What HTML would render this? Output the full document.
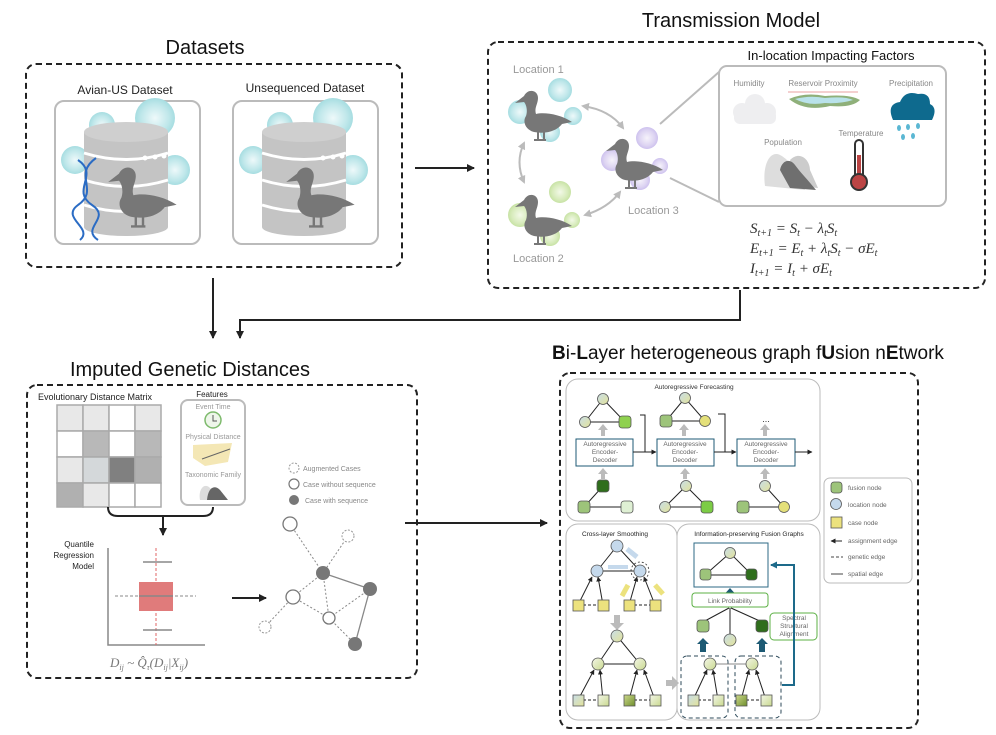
<!DOCTYPE html>
<html><head><meta charset="utf-8"><style>
html,body{margin:0;padding:0;background:#fff}
svg{display:block;font-family:"Liberation Sans",sans-serif}
</style></head><body>
<svg width="996" height="735" viewBox="0 0 996 735" xmlns="http://www.w3.org/2000/svg">
<defs>
<marker id="ah" markerWidth="8" markerHeight="8" refX="7" refY="4" orient="auto" markerUnits="userSpaceOnUse"><path d="M0,0 L8,4 L0,8 Z" fill="#222"/></marker>
<marker id="as" markerWidth="5" markerHeight="5" refX="4.5" refY="2.5" orient="auto" markerUnits="userSpaceOnUse"><path d="M0,0 L5,2.5 L0,5 Z" fill="#222"/></marker>
<marker id="ag" markerWidth="8" markerHeight="8" refX="6" refY="4" orient="auto-start-reverse" markerUnits="userSpaceOnUse"><path d="M0,0 L8,4 L0,8 Z" fill="#bbb"/></marker>
<marker id="ab" markerWidth="7" markerHeight="7" refX="6" refY="3.5" orient="auto" markerUnits="userSpaceOnUse"><path d="M0,0 L7,3.5 L0,7 Z" fill="#1d6a8a"/></marker>
<g id="duck"><path d="M10,8 C14,0 24,2 24,10 C24,16 20,20 22,26 C30,24 46,26 58,34 L48,36 C42,44 30,46 20,44 C12,42 8,34 12,28 C14,22 12,16 10,14 L1,15 Z" fill="#777"/><path d="M24,44 L24,52 M30,44 L30,52 M20,52 L32,52" stroke="#777" stroke-width="2"/></g>
<radialGradient id="vb"><stop offset="0" stop-color="#eef9fa"/><stop offset="0.7" stop-color="#bfe7ea"/><stop offset="1" stop-color="#a6dde1"/></radialGradient>
<radialGradient id="vg"><stop offset="0" stop-color="#f3f9e8"/><stop offset="0.7" stop-color="#d7ebbb"/><stop offset="1" stop-color="#c7e2a4"/></radialGradient>
<radialGradient id="vp"><stop offset="0" stop-color="#f6f3fb"/><stop offset="0.7" stop-color="#ddd4f2"/><stop offset="1" stop-color="#cdc1ee"/></radialGradient>
<linearGradient id="gy" x1="0" y1="0" x2="1" y2="1"><stop offset="0" stop-color="#c8dde8"/><stop offset="1" stop-color="#e3e39a"/></linearGradient>
<linearGradient id="gg" x1="0" y1="0" x2="1" y2="1"><stop offset="0" stop-color="#f4f6e8"/><stop offset="1" stop-color="#c9d98f"/></linearGradient>
<linearGradient id="gd" x1="0" y1="0" x2="1" y2="1"><stop offset="0" stop-color="#cdd88c"/><stop offset="1" stop-color="#6f8f2d"/></linearGradient>
</defs>

<!-- ================= DATASETS ================= -->
<text x="205" y="54" font-size="20" text-anchor="middle" fill="#111">Datasets</text>
<rect x="26" y="64" width="376" height="203" rx="10" fill="none" stroke="#222" stroke-width="2" stroke-dasharray="6,4"/>
<text x="125" y="94" font-size="12" text-anchor="middle" fill="#222">Avian-US Dataset</text>
<text x="305" y="92" font-size="12" text-anchor="middle" fill="#222">Unsequenced Dataset</text>
<g>
<rect x="55" y="101" width="145" height="143" rx="9" fill="#fff" stroke="#bbb" stroke-width="2"/>
<circle cx="102" cy="125" r="13" fill="url(#vb)"/><circle cx="155" cy="118" r="20" fill="url(#vb)"/><circle cx="175" cy="170" r="15" fill="url(#vb)"/><circle cx="75" cy="160" r="14" fill="url(#vb)"/>
<rect x="84" y="132" width="84" height="95" fill="#c4c4c4"/><ellipse cx="126" cy="132" rx="42" ry="10" fill="#cfcfcf"/><ellipse cx="126" cy="227" rx="42" ry="9" fill="#c4c4c4"/>
<path d="M84,153 Q126,166 168,153 M84,180 Q126,193 168,180 M84,205 Q126,218 168,205" stroke="#fff" stroke-width="3" fill="none"/>
<circle cx="145" cy="158" r="2.5" fill="#fff"/><circle cx="155" cy="157" r="2.5" fill="#fff"/><circle cx="164" cy="156" r="2.5" fill="#fff"/>
<use href="#duck" transform="translate(107,164) scale(1.2)"/>
<path d="M78,160 C100,175 70,190 92,205 C112,218 80,228 98,240" stroke="#2b6cc4" stroke-width="2" fill="none"/>
<path d="M96,158 C72,175 100,190 78,205 C60,218 94,228 80,240" stroke="#2b6cc4" stroke-width="2" fill="none"/>
</g>
<g transform="translate(178,0)">
<rect x="55" y="101" width="145" height="143" rx="9" fill="#fff" stroke="#bbb" stroke-width="2"/>
<circle cx="102" cy="125" r="13" fill="url(#vb)"/><circle cx="155" cy="118" r="20" fill="url(#vb)"/><circle cx="175" cy="170" r="15" fill="url(#vb)"/><circle cx="75" cy="160" r="14" fill="url(#vb)"/>
<rect x="84" y="132" width="84" height="95" fill="#c4c4c4"/><ellipse cx="126" cy="132" rx="42" ry="10" fill="#cfcfcf"/><ellipse cx="126" cy="227" rx="42" ry="9" fill="#c4c4c4"/>
<path d="M84,153 Q126,166 168,153 M84,180 Q126,193 168,180 M84,205 Q126,218 168,205" stroke="#fff" stroke-width="3" fill="none"/>
<circle cx="145" cy="158" r="2.5" fill="#fff"/><circle cx="155" cy="157" r="2.5" fill="#fff"/><circle cx="164" cy="156" r="2.5" fill="#fff"/>
<use href="#duck" transform="translate(107,164) scale(1.2)"/>
</g>
<line x1="415" y1="168" x2="474" y2="168" stroke="#222" stroke-width="2" marker-end="url(#ah)"/>

<!-- ================= TRANSMISSION ================= -->
<text x="731" y="27" font-size="20" text-anchor="middle" fill="#111">Transmission Model</text>
<rect x="488" y="42" width="497" height="246" rx="10" fill="none" stroke="#222" stroke-width="2" stroke-dasharray="6,4"/>
<text x="831" y="60" font-size="13" text-anchor="middle" fill="#111">In-location Impacting Factors</text>
<rect x="719" y="66" width="227" height="140" rx="8" fill="#fff" stroke="#bbb" stroke-width="2"/>
<line x1="660" y1="124" x2="719" y2="72" stroke="#bbb" stroke-width="2"/><line x1="670" y1="178" x2="719" y2="202" stroke="#bbb" stroke-width="2"/>
<text x="513" y="73" font-size="11" fill="#999">Location 1</text>
<text x="513" y="262" font-size="11" fill="#999">Location 2</text>
<text x="628" y="214" font-size="11" fill="#999">Location 3</text>
<circle cx="560" cy="90" r="12" fill="url(#vb)"/><circle cx="520" cy="112" r="12" fill="url(#vb)"/><circle cx="573" cy="116" r="9" fill="url(#vb)"/><circle cx="550" cy="132" r="10" fill="url(#vb)"/>
<use href="#duck" transform="translate(514,88) scale(1)"/>
<circle cx="560" cy="192" r="11" fill="url(#vg)"/><circle cx="520" cy="215" r="12" fill="url(#vg)"/><circle cx="572" cy="220" r="8" fill="url(#vg)"/><circle cx="550" cy="236" r="10" fill="url(#vg)"/>
<use href="#duck" transform="translate(514,192) scale(1)"/>
<circle cx="647" cy="138" r="11" fill="url(#vp)"/><circle cx="612" cy="160" r="11" fill="url(#vp)"/><circle cx="660" cy="166" r="8" fill="url(#vp)"/><circle cx="640" cy="180" r="10" fill="url(#vp)"/>
<use href="#duck" transform="translate(605,136) scale(1)"/>
<path d="M583,106 Q610,110 623,128" stroke="#bbb" stroke-width="2" fill="none" marker-start="url(#ag)" marker-end="url(#ag)"/>
<path d="M524,143 Q515,162 524,182" stroke="#bbb" stroke-width="2" fill="none" marker-start="url(#ag)" marker-end="url(#ag)"/>
<path d="M585,215 Q608,208 620,192" stroke="#bbb" stroke-width="2" fill="none" marker-start="url(#ag)" marker-end="url(#ag)"/>
<text x="749" y="86" font-size="8" text-anchor="middle" fill="#888">Humidity</text>
<text x="823" y="86" font-size="8" text-anchor="middle" fill="#888">Reservoir Proximity</text>
<text x="911" y="86" font-size="8" text-anchor="middle" fill="#888">Precipitation</text>
<text x="783" y="145" font-size="8" text-anchor="middle" fill="#888">Population</text>
<text x="861" y="136" font-size="8" text-anchor="middle" fill="#888">Temperature</text>
<g fill="#eeeef0"><circle cx="742" cy="112" r="9"/><circle cx="755" cy="104" r="10"/><circle cx="767" cy="112" r="9"/><rect x="734" y="110" width="42" height="14" rx="6"/></g>
<line x1="788" y1="92" x2="858" y2="92" stroke="#e8a0a0" stroke-width="1"/>
<path d="M789,99 Q805,92 825,96 Q850,94 860,100 Q852,108 830,106 Q805,112 789,99 Z" fill="#8fb07a"/>
<path d="M795,99 Q810,95 825,98 Q845,96 853,100 Q840,104 825,103 Q808,106 795,99 Z" fill="#b9e2ea"/>
<path d="M893,120 Q886,104 900,102 Q905,90 918,94 Q930,92 930,104 Q938,108 932,120 Z" fill="#0e6a8e"/>
<g fill="#5bb7d3"><ellipse cx="899" cy="128" rx="2" ry="3"/><ellipse cx="908" cy="127" rx="2" ry="3"/><ellipse cx="918" cy="126" rx="2" ry="3"/><ellipse cx="903" cy="137" rx="2" ry="3"/><ellipse cx="913" cy="136" rx="2" ry="3"/></g>
<path d="M765,186 C762,165 770,150 780,155 C790,160 800,175 805,190 Z" fill="#ddd"/>
<path d="M790,160 C800,150 810,160 810,170 L818,188 L798,186 Z" fill="#ccc"/>
<path d="M780,170 C782,160 790,158 795,165 C800,172 808,180 816,190 L790,188 Z" fill="#6f6f6f"/>
<rect x="855" y="140" width="8" height="40" rx="4" fill="#fff" stroke="#333" stroke-width="2"/><rect x="857" y="155" width="4" height="25" fill="#b44"/><circle cx="859" cy="182" r="8" fill="#b44" stroke="#333" stroke-width="2"/>
<g font-family="Liberation Serif,serif" font-style="italic" font-size="15" fill="#333">
<text x="750" y="233">S<tspan font-size="10" dy="3">t+1</tspan><tspan dy="-3"> = S</tspan><tspan font-size="10" dy="3">t</tspan><tspan dy="-3"> − λ</tspan><tspan font-size="10" dy="3">t</tspan><tspan dy="-3">S</tspan><tspan font-size="10" dy="3">t</tspan></text>
<text x="750" y="253">E<tspan font-size="10" dy="3">t+1</tspan><tspan dy="-3"> = E</tspan><tspan font-size="10" dy="3">t</tspan><tspan dy="-3"> + λ</tspan><tspan font-size="10" dy="3">t</tspan><tspan dy="-3">S</tspan><tspan font-size="10" dy="3">t</tspan><tspan dy="-3"> − σE</tspan><tspan font-size="10" dy="3">t</tspan></text>
<text x="750" y="273">I<tspan font-size="10" dy="3">t+1</tspan><tspan dy="-3"> = I</tspan><tspan font-size="10" dy="3">t</tspan><tspan dy="-3"> + σE</tspan><tspan font-size="10" dy="3">t</tspan></text>
</g>

<!-- connectors -->
<line x1="213" y1="278" x2="213" y2="338" stroke="#222" stroke-width="2" marker-end="url(#ah)"/>
<polyline points="740,290 740,320 240,320 240,338" fill="none" stroke="#222" stroke-width="2" marker-end="url(#ah)"/>
<line x1="405" y1="523" x2="547" y2="523" stroke="#222" stroke-width="2" marker-end="url(#ah)"/>

<!-- ================= IMPUTED ================= -->
<text x="190" y="376" font-size="20" text-anchor="middle" fill="#111">Imputed Genetic Distances</text>
<rect x="27" y="385" width="390" height="293" rx="10" fill="none" stroke="#222" stroke-width="2" stroke-dasharray="6,4"/>
<text x="95" y="400" font-size="9" text-anchor="middle" fill="#222">Evolutionary Distance Matrix</text>
<g stroke="#aaa" stroke-width="1.5">
<rect x="57" y="405" width="26" height="26" fill="#e8e8e8"/><rect x="83" y="405" width="26" height="26" fill="#e8e8e8"/><rect x="109" y="405" width="26" height="26" fill="#fff"/><rect x="135" y="405" width="26" height="26" fill="#e8e8e8"/>
<rect x="57" y="431" width="26" height="26" fill="#fff"/><rect x="83" y="431" width="26" height="26" fill="#b8b8b8"/><rect x="109" y="431" width="26" height="26" fill="#fff"/><rect x="135" y="431" width="26" height="26" fill="#b8b8b8"/>
<rect x="57" y="457" width="26" height="26" fill="#e8e8e8"/><rect x="83" y="457" width="26" height="26" fill="#d4d8da"/><rect x="109" y="457" width="26" height="26" fill="#808080"/><rect x="135" y="457" width="26" height="26" fill="#b0b0b0"/>
<rect x="57" y="483" width="26" height="24" fill="#b0b0b0"/><rect x="83" y="483" width="26" height="24" fill="#e8e8e8"/><rect x="109" y="483" width="26" height="24" fill="#fff"/><rect x="135" y="483" width="26" height="24" fill="#fff"/>
</g>
<text x="212" y="397" font-size="8" text-anchor="middle" fill="#222">Features</text>
<rect x="181" y="400" width="64" height="105" rx="7" fill="#fff" stroke="#bbb" stroke-width="2"/>
<text x="213" y="409" font-size="7" text-anchor="middle" fill="#999">Event Time</text>
<circle cx="213" cy="420" r="8" fill="#eef6ea" stroke="#7dba6c" stroke-width="1.5"/><path d="M213,415 L213,421 L217,421" stroke="#555" fill="none"/>
<text x="213" y="439" font-size="7" text-anchor="middle" fill="#999">Physical Distance</text>
<path d="M193,445 L232,443 L228,462 L205,466 L193,458 Z" fill="#f4e7b5"/><line x1="202" y1="459" x2="230" y2="449" stroke="#666"/>
<text x="213" y="477" font-size="7" text-anchor="middle" fill="#999">Taxonomic Family</text>
<path d="M200,500 C198,490 204,482 210,488 L222,500 Z" fill="#ddd"/><path d="M207,500 C208,488 214,484 220,490 L228,500 Z" fill="#666"/>
<path d="M108,507 Q108,516 118,516 L203,516 Q213,516 213,507" fill="none" stroke="#222" stroke-width="2"/>
<line x1="163" y1="517" x2="163" y2="535" stroke="#222" stroke-width="2" marker-end="url(#ah)"/>
<g font-size="8" fill="#222" text-anchor="end"><text x="94" y="547">Quantile</text><text x="94" y="558">Regression</text><text x="94" y="569">Model</text></g>
<polyline points="108,548 108,645 205,645" fill="none" stroke="#888" stroke-width="1.5"/>
<line x1="156" y1="548" x2="156" y2="645" stroke="#e06666" stroke-dasharray="3,2"/>
<line x1="115" y1="596" x2="196" y2="596" stroke="#888" stroke-dasharray="3,2"/>
<rect x="139" y="582" width="34" height="29" fill="#e07b7b"/>
<line x1="139" y1="596" x2="173" y2="596" stroke="#888" stroke-width="1.5"/>
<line x1="143" y1="562" x2="172" y2="562" stroke="#888" stroke-width="1.5"/><line x1="143" y1="630" x2="172" y2="630" stroke="#888" stroke-width="1.5"/>
<text x="110" y="667" font-family="Liberation Serif,serif" font-style="italic" font-size="13" fill="#777">D<tspan font-size="8" dy="3">ij</tspan><tspan dy="-3"> ~ Q̂</tspan><tspan font-size="8" dy="3">τ</tspan><tspan dy="-3">(D</tspan><tspan font-size="8" dy="3">ij</tspan><tspan dy="-3">|X</tspan><tspan font-size="8" dy="3">ij</tspan><tspan dy="-3">)</tspan></text>
<line x1="232" y1="598" x2="266" y2="598" stroke="#222" stroke-width="2" marker-end="url(#ah)"/>
<circle cx="294" cy="468" r="5" fill="#fff" stroke="#999" stroke-dasharray="2,1.5"/><text x="303" y="471" font-size="7" fill="#888">Augmented Cases</text>
<circle cx="294" cy="484" r="5" fill="#fff" stroke="#777" stroke-width="1.2"/><text x="303" y="487" font-size="7" fill="#888">Case without sequence</text>
<circle cx="294" cy="500" r="5" fill="#777"/><text x="305" y="503" font-size="7" fill="#888">Case with sequence</text>
<g stroke="#888" stroke-dasharray="2,2" fill="none">
<line x1="290" y1="524" x2="323" y2="573"/><line x1="348" y1="536" x2="323" y2="573"/><line x1="323" y1="573" x2="293" y2="597"/><line x1="323" y1="573" x2="329" y2="618"/><line x1="293" y1="597" x2="265" y2="627"/><line x1="293" y1="597" x2="329" y2="618"/><line x1="329" y1="618" x2="370" y2="589"/><line x1="329" y1="618" x2="355" y2="644"/></g>
<g stroke="#888" stroke-width="1.3"><line x1="323" y1="573" x2="370" y2="589"/><line x1="370" y1="589" x2="355" y2="644"/></g>
<circle cx="290" cy="524" r="7" fill="#fff" stroke="#777" stroke-width="1.3"/>
<circle cx="348" cy="536" r="6" fill="#fff" stroke="#999" stroke-dasharray="2,1.5"/>
<circle cx="323" cy="573" r="7" fill="#777"/><circle cx="370" cy="589" r="7" fill="#777"/><circle cx="355" cy="644" r="7" fill="#777"/>
<circle cx="293" cy="597" r="7" fill="#fff" stroke="#777" stroke-width="1.3"/><circle cx="329" cy="618" r="6" fill="#fff" stroke="#777" stroke-width="1.3"/>
<circle cx="265" cy="627" r="6" fill="#fff" stroke="#999" stroke-dasharray="2,1.5"/>

<!-- ================= BI-LAYER ================= -->
<text x="748" y="359" font-size="19" text-anchor="middle" fill="#111"><tspan font-weight="bold">B</tspan>i-<tspan font-weight="bold">L</tspan>ayer heterogeneous graph f<tspan font-weight="bold">U</tspan>sion n<tspan font-weight="bold">E</tspan>twork</text>
<rect x="560" y="373" width="358" height="355" rx="10" fill="none" stroke="#222" stroke-width="2" stroke-dasharray="6,4"/>
<rect x="566" y="379" width="254" height="142" rx="12" fill="#fff" stroke="#bbb"/>
<rect x="566" y="524" width="111" height="196" rx="12" fill="#fff" stroke="#bbb"/>
<rect x="677" y="524" width="143" height="196" rx="12" fill="#fff" stroke="#bbb"/>
<text x="694" y="389" font-size="6.5" text-anchor="middle" fill="#333">Autoregressive Forecasting</text>
<text x="615" y="536" font-size="6.5" text-anchor="middle" fill="#222">Cross-layer Smoothing</text>
<text x="749" y="536" font-size="6.5" text-anchor="middle" fill="#222">Information-preserving Fusion Graphs</text>
<g font-size="6.5" fill="#666" text-anchor="middle">
<rect x="576" y="439" width="57" height="27" fill="#fff" stroke="#1d5a74"/><text x="605" y="446">Autoregressive</text><text x="605" y="454">Encoder-</text><text x="605" y="462">Decoder</text>
<rect x="657" y="439" width="57" height="27" fill="#fff" stroke="#1d5a74"/><text x="685" y="446">Autoregressive</text><text x="685" y="454">Encoder-</text><text x="685" y="462">Decoder</text>
<rect x="737" y="439" width="58" height="27" fill="#fff" stroke="#1d5a74"/><text x="766" y="446">Autoregressive</text><text x="766" y="454">Encoder-</text><text x="766" y="462">Decoder</text>
</g>
<g stroke="#222" fill="none"><polyline points="633,452 645,452 645,415 640,415"/><line x1="633" y1="452" x2="656" y2="452" marker-end="url(#as)"/>
<polyline points="714,452 725,452 725,414 718,414"/><line x1="714" y1="452" x2="736" y2="452" marker-end="url(#as)"/>
<line x1="795" y1="452" x2="812" y2="452" marker-end="url(#as)"/></g>
<text x="766" y="422" font-size="9" text-anchor="middle" fill="#333">...</text>
<g fill="#bbb"><path d="M601,436 v-6 h-3 l5,-6 l5,6 h-3 v6 z"/><path d="M682,436 v-6 h-3 l5,-6 l5,6 h-3 v6 z"/><path d="M763,436 v-6 h-3 l5,-6 l5,6 h-3 v6 z"/>
<path d="M601,479 v-5 h-3 l5,-6 l5,6 h-3 v5 z"/><path d="M683,479 v-5 h-3 l5,-6 l5,6 h-3 v5 z"/><path d="M763,479 v-5 h-3 l5,-6 l5,6 h-3 v5 z"/></g>
<g stroke="#222" stroke-width="1">
<path d="M603,399 L585,422 L625,422 Z" fill="none"/><path d="M685,398 L666,421 L705,421 Z" fill="none"/>
<path d="M603,486 L584,507 L627,507" fill="none"/><path d="M686,486 L665,507 L707,507 Z" fill="none"/><path d="M765,486 L784,507 L743,507" fill="none"/>
</g>
<g stroke="#555" stroke-width="0.8">
<circle cx="603" cy="399" r="5.5" fill="url(#gy)"/><circle cx="585" cy="422" r="5.5" fill="url(#gy)"/><rect x="619" y="416" width="12" height="12" rx="3" fill="#8fd14f"/>
<circle cx="685" cy="398" r="5.5" fill="url(#gy)"/><rect x="660" y="415" width="12" height="12" rx="3" fill="#9dc47a"/><circle cx="705" cy="421" r="5.5" fill="#e4e07a"/>
<rect x="597" y="480" width="12" height="12" rx="3" fill="#2f6e1c"/><rect x="578" y="501" width="12" height="12" rx="3" fill="#9dc47a"/><rect x="621" y="501" width="12" height="12" rx="3" fill="#dff0d4"/>
<circle cx="686" cy="486" r="5.5" fill="url(#gy)"/><circle cx="665" cy="507" r="5.5" fill="url(#gy)"/><rect x="701" y="501" width="12" height="12" rx="3" fill="#7ccc45"/>
<circle cx="765" cy="486" r="5.5" fill="url(#gy)"/><rect x="737" y="501" width="12" height="12" rx="3" fill="#9dc47a"/><circle cx="784" cy="507" r="5.5" fill="#e4e07a"/>
</g>
<rect x="824" y="478" width="88" height="105" rx="6" fill="#fff" stroke="#bbb"/>
<rect x="831" y="482" width="11" height="11" rx="3" fill="#9dc47a" stroke="#555" stroke-width="0.8"/><text x="848" y="490" font-size="6.5" fill="#666">fusion node</text>
<circle cx="836" cy="504" r="5.5" fill="#c5d9ec" stroke="#555" stroke-width="0.8"/><text x="848" y="507" font-size="6.5" fill="#666">location node</text>
<rect x="831" y="517" width="11" height="11" fill="#ece27e" stroke="#555" stroke-width="0.8"/><text x="848" y="525" font-size="6.5" fill="#666">case  node</text>
<line x1="842" y1="541" x2="831" y2="541" stroke="#222" marker-end="url(#as)"/><text x="848" y="543" font-size="6.5" fill="#666">assignment edge</text>
<line x1="831" y1="557" x2="843" y2="557" stroke="#444" stroke-dasharray="3,2"/><text x="848" y="559" font-size="6.5" fill="#666">genetic edge</text>
<line x1="831" y1="574" x2="843" y2="574" stroke="#444"/><text x="848" y="576" font-size="6.5" fill="#666">spatial edge</text>
<g stroke="#222" stroke-width="1" fill="none">
<line x1="617" y1="546" x2="597" y2="571"/><line x1="617" y1="546" x2="640" y2="571"/><line x1="597" y1="571" x2="640" y2="571"/>
<line x1="578" y1="605" x2="592" y2="577" marker-end="url(#as)"/><line x1="603" y1="605" x2="598" y2="577" marker-end="url(#as)"/><line x1="629" y1="605" x2="637" y2="577" marker-end="url(#as)"/><line x1="655" y1="605" x2="644" y2="577" marker-end="url(#as)"/>
<line x1="578" y1="605" x2="603" y2="605" stroke-dasharray="3,2"/><line x1="629" y1="605" x2="655" y2="605" stroke-dasharray="3,2"/>
<line x1="617" y1="636" x2="598" y2="664"/><line x1="617" y1="636" x2="640" y2="664"/><line x1="598" y1="664" x2="640" y2="664"/>
<line x1="578" y1="700" x2="594" y2="670" marker-end="url(#as)"/><line x1="603" y1="700" x2="600" y2="670" marker-end="url(#as)"/><line x1="629" y1="700" x2="637" y2="670" marker-end="url(#as)"/><line x1="655" y1="700" x2="644" y2="670" marker-end="url(#as)"/>
<line x1="578" y1="700" x2="603" y2="700" stroke-dasharray="3,2"/><line x1="629" y1="700" x2="655" y2="700" stroke-dasharray="3,2"/>
</g>
<path d="M627,549 L637,557" stroke="#c5d9ec" stroke-width="5"/><path d="M608,567 L628,567" stroke="#c5d9ec" stroke-width="4"/>
<path d="M622,596 L628,585" stroke="#ece27e" stroke-width="5"/><path d="M663,594 L655,585" stroke="#ece27e" stroke-width="5"/>
<circle cx="640" cy="571" r="9" fill="none" stroke="#333" stroke-dasharray="2,2" stroke-width="0.8"/>
<path d="M614,615 h6 v8 h4 l-7,7 l-7,-7 h4 z" fill="#bbb"/>
<path d="M666,680 h6 v-4 l7,7 l-7,7 v-4 h-6 z" fill="#bbb"/>
<g stroke="#555" stroke-width="0.8">
<circle cx="617" cy="546" r="6" fill="#c5d9ec"/><circle cx="597" cy="571" r="6" fill="#c5d9ec"/><circle cx="640" cy="571" r="6" fill="#c5d9ec"/>
<rect x="573" y="600" width="11" height="11" fill="#ece27e"/><rect x="598" y="600" width="11" height="11" fill="#ece27e"/><rect x="624" y="600" width="11" height="11" fill="#ece27e"/><rect x="650" y="600" width="11" height="11" fill="#ece27e"/>
<circle cx="617" cy="636" r="6" fill="url(#gy)"/><circle cx="598" cy="664" r="6" fill="url(#gg)"/><circle cx="640" cy="664" r="6" fill="url(#gg)"/>
<rect x="573" y="695" width="11" height="11" fill="url(#gy)"/><rect x="598" y="695" width="11" height="11" fill="url(#gg)"/><rect x="624" y="695" width="11" height="11" fill="url(#gd)"/><rect x="650" y="695" width="11" height="11" fill="url(#gg)"/>
</g>
<rect x="694" y="543" width="74" height="44" fill="#fff" stroke="#2d6a84"/>
<g stroke="#222" fill="none"><path d="M730,553 L705,575 L752,575 Z"/></g>
<g stroke="#555" stroke-width="0.8"><circle cx="730" cy="553" r="5.5" fill="url(#gy)"/><rect x="700" y="569" width="11" height="11" rx="3" fill="#9dc47a"/><rect x="746" y="569" width="11" height="11" rx="3" fill="#2f6e1c"/></g>
<path d="M728,598 v-5 h-2.5 l4.5,-5 l4.5,5 h-2.5 v5 z" fill="#1d5a74"/>
<rect x="692" y="593" width="76" height="14" rx="3" fill="#fff" stroke="#5cb044"/>
<text x="730" y="603" font-size="6.5" text-anchor="middle" fill="#666">Link Probability</text>
<rect x="770" y="613" width="47" height="27" rx="4" fill="#fff" stroke="#5cb044"/>
<g font-size="6.5" fill="#666" text-anchor="middle"><text x="794" y="620">Spectral</text><text x="794" y="628">Structural</text><text x="794" y="636">Alignment</text></g>
<g stroke="#222" fill="none">
<line x1="703" y1="622" x2="729" y2="608"/><line x1="730" y1="635" x2="730" y2="608"/><line x1="762" y1="622" x2="731" y2="608"/>
<line x1="710" y1="664" x2="752" y2="664" stroke="#888"/>
<line x1="693" y1="700" x2="707" y2="670" marker-end="url(#as)"/><line x1="718" y1="700" x2="713" y2="670" marker-end="url(#as)"/><line x1="741" y1="700" x2="749" y2="670" marker-end="url(#as)"/><line x1="766" y1="700" x2="756" y2="670" marker-end="url(#as)"/>
<line x1="693" y1="700" x2="718" y2="700" stroke-dasharray="3,2"/><line x1="741" y1="700" x2="766" y2="700" stroke-dasharray="3,2"/>
</g>
<path d="M700,652 v-8 h-3 l6,-6 l6,6 h-3 v8 z" fill="#1d5a74"/><path d="M759,652 v-8 h-3 l6,-6 l6,6 h-3 v8 z" fill="#1d5a74"/>
<rect x="681" y="656" width="47" height="62" rx="6" fill="none" stroke="#2d4a5a" stroke-dasharray="4,3"/>
<rect x="735" y="656" width="46" height="62" rx="6" fill="none" stroke="#2d4a5a" stroke-dasharray="4,3"/>
<polyline points="782,685 794,685 794,565 771,565" fill="none" stroke="#1d6a8a" stroke-width="2" marker-end="url(#ab)"/>
<g stroke="#555" stroke-width="0.8">
<rect x="697" y="620" width="12" height="12" rx="3" fill="#9dc47a"/><circle cx="730" cy="640" r="6" fill="url(#gy)"/><rect x="756" y="620" width="12" height="12" rx="3" fill="#2f6e1c"/>
<circle cx="710" cy="664" r="6" fill="url(#gg)"/><circle cx="752" cy="664" r="6" fill="url(#gg)"/>
<rect x="688" y="695" width="11" height="11" fill="url(#gy)"/><rect x="713" y="695" width="11" height="11" fill="url(#gg)"/><rect x="736" y="695" width="11" height="11" fill="url(#gd)"/><rect x="761" y="695" width="11" height="11" fill="url(#gg)"/>
</g>
</svg>
</body></html>
